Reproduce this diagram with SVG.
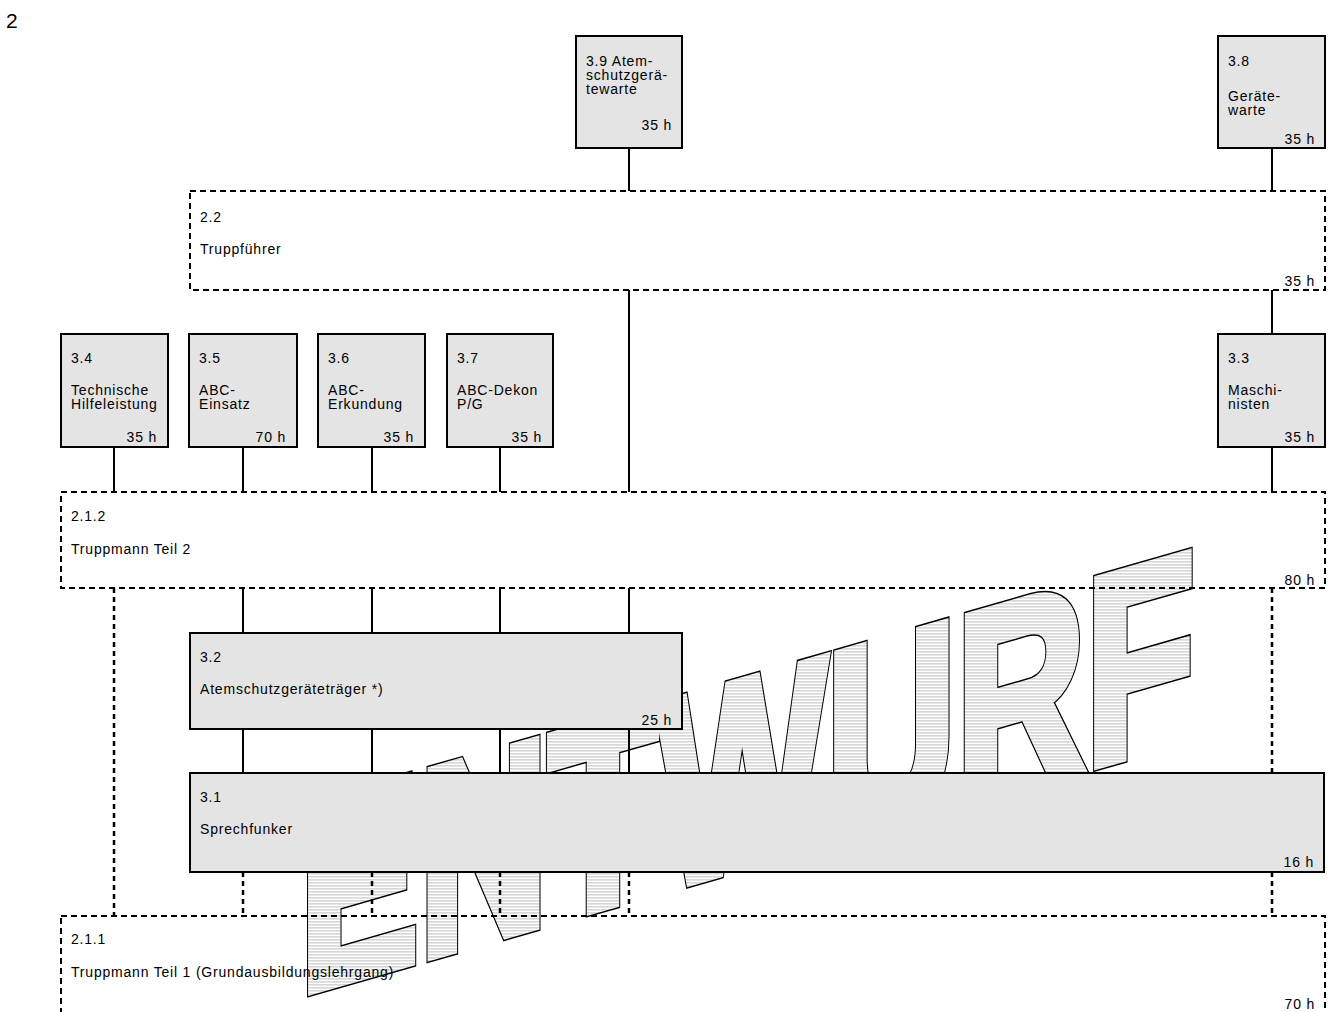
<svg xmlns="http://www.w3.org/2000/svg" width="1331" height="1012" viewBox="0 0 1331 1012">
<defs>
<pattern id="hatch" patternUnits="userSpaceOnUse" width="6" height="3" patternTransform="skewY(16)">
<rect x="0" y="0" width="6" height="3" fill="#fff"/>
<rect x="0" y="0" width="6" height="1" fill="#bdbdbd"/>
</pattern>
</defs>
<style>
text { font-family: "Liberation Sans", Arial, sans-serif; font-size: 14px; letter-spacing: 0.8px; fill: #000; }
.r { text-anchor: end; }
.box { fill: #e4e4e4; stroke: #000; stroke-width: 2; }
.dbox { fill: none; stroke: #000; stroke-width: 2; stroke-dasharray: 6 4; }
.ln { fill: none; stroke: #000; stroke-width: 2; }
.dl { fill: none; stroke: #000; stroke-width: 2.5; stroke-dasharray: 5 4; }
.wm { font-size: 268px; font-weight: bold; letter-spacing: 0; stroke-linejoin: miter; }
.wmo { fill: none; stroke: #000; stroke-width: 13; }
.wmf { fill: url(#hatch); stroke: url(#hatch); stroke-width: 10; }
</style>
<rect x="0" y="0" width="1331" height="1012" fill="#fff"/>
<text x="6" y="28" style="font-size:21px;letter-spacing:0">2</text>

<g id="watermark">
<text class="wm wmo" x="0" y="0" transform="translate(299.4 993.4) skewY(-16)" textLength="895.5" lengthAdjust="spacingAndGlyphs">ENTWURF</text>
<text class="wm wmf" x="0" y="0" transform="translate(299.4 993.4) skewY(-16)" textLength="895.5" lengthAdjust="spacingAndGlyphs">ENTWURF</text>
</g>

<g id="connectors">
<path class="ln" d="M629 148V191M1272 148V191M629 290V492M1272 290V334M1272 447V492M114 447V492M243 447V492M372 447V492M500 447V492M243 588V633M372 588V633M500 588V633M629 588V633M243 729V773M372 729V773M500 729V773M629 729V773"/>
<path class="dl" d="M114 588V916M1272 588V773M1272 872V916M243 872V916M372 872V916M500 872V916M629 872V916"/>
</g>

<g id="n2_2">
<rect class="dbox" x="190" y="191" width="1135" height="99"/>
<text x="200" y="222">2.2</text>
<text x="200" y="254">Truppführer</text>
<text class="r" x="1315" y="286">35 h</text>
</g>
<g id="n2_1_2">
<rect class="dbox" x="61" y="492" width="1264" height="96"/>
<text x="71" y="521">2.1.2</text>
<text x="71" y="554">Truppmann Teil 2</text>
<text class="r" x="1315" y="585">80 h</text>
</g>
<g id="n2_1_1">
<rect class="dbox" x="61" y="916" width="1264" height="130"/>
<text x="71" y="944">2.1.1</text>
<text x="71" y="977">Truppmann Teil 1 (Grundausbildungslehrgang)</text>
<text class="r" x="1315" y="1009">70 h</text>
</g>

<g id="n3_9">
<rect class="box" x="576" y="36" width="106" height="112"/>
<text x="586" y="66">3.9 Atem-</text>
<text x="586" y="80">schutzgerä-</text>
<text x="586" y="94">tewarte</text>
<text class="r" x="672" y="130">35 h</text>
</g>
<g id="n3_8">
<rect class="box" x="1218" y="36" width="107" height="112"/>
<text x="1228" y="66">3.8</text>
<text x="1228" y="101">Geräte-</text>
<text x="1228" y="115">warte</text>
<text class="r" x="1315" y="144">35 h</text>
</g>
<g id="n3_4">
<rect class="box" x="61" y="334" width="107" height="113"/>
<text x="71" y="363">3.4</text>
<text x="71" y="395">Technische</text>
<text x="71" y="409">Hilfeleistung</text>
<text class="r" x="157" y="442">35 h</text>
</g>
<g id="n3_5">
<rect class="box" x="189" y="334" width="108" height="113"/>
<text x="199" y="363">3.5</text>
<text x="199" y="395">ABC-</text>
<text x="199" y="409">Einsatz</text>
<text class="r" x="286" y="442">70 h</text>
</g>
<g id="n3_6">
<rect class="box" x="318" y="334" width="107" height="113"/>
<text x="328" y="363">3.6</text>
<text x="328" y="395">ABC-</text>
<text x="328" y="409">Erkundung</text>
<text class="r" x="414" y="442">35 h</text>
</g>
<g id="n3_7">
<rect class="box" x="447" y="334" width="106" height="113"/>
<text x="457" y="363">3.7</text>
<text x="457" y="395">ABC-Dekon</text>
<text x="457" y="409">P/G</text>
<text class="r" x="542" y="442">35 h</text>
</g>
<g id="n3_3">
<rect class="box" x="1218" y="334" width="107" height="113"/>
<text x="1228" y="363">3.3</text>
<text x="1228" y="395">Maschi-</text>
<text x="1228" y="409">nisten</text>
<text class="r" x="1315" y="442">35 h</text>
</g>
<g id="n3_2">
<rect class="box" x="190" y="633" width="492" height="96"/>
<text x="200" y="662">3.2</text>
<text x="200" y="694">Atemschutzgeräteträger *)</text>
<text class="r" x="672" y="725">25 h</text>
</g>
<g id="n3_1">
<rect class="box" x="190" y="773" width="1134" height="99"/>
<text x="200" y="802">3.1</text>
<text x="200" y="834">Sprechfunker</text>
<text class="r" x="1314" y="867">16 h</text>
</g>
</svg>
